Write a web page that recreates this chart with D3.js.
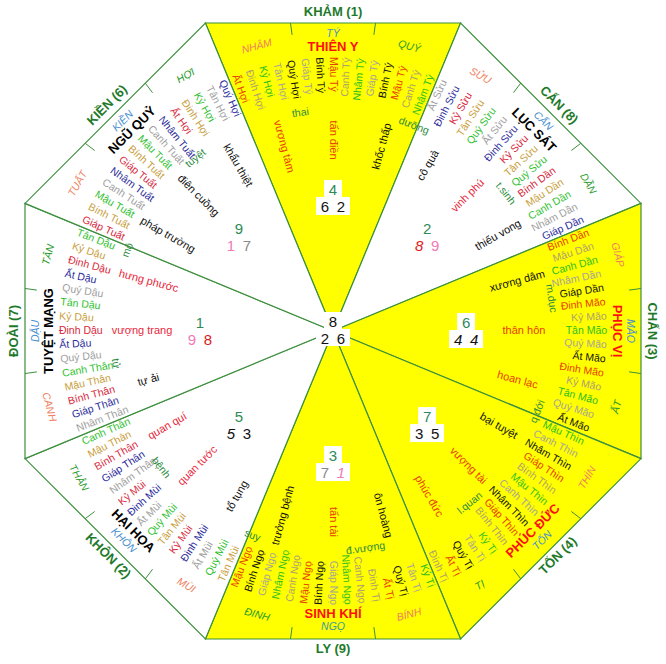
<!DOCTYPE html>
<html><head><meta charset="utf-8">
<script src="https://cdn.jsdelivr.net/npm/d3@7"></script>
<style>body{margin:0;background:#fff}text{font-family:"Liberation Sans",Arial,sans-serif}</style>
</head><body><svg id="c" width="666" height="664"></svg>
<script>
// ---------- data ----------
const palaces = ["KHẢM (1)","CẤN (8)","CHẤN (3)","TỐN (4)","LY (9)","KHÔN (2)","ĐOÀI (7)","KIỀN (6)"];
const stars = ["THIÊN Y","LỤC SÁT","PHỤC VỊ","PHÚC ĐỨC","SINH KHÍ","HẠI HỌA","TUYỆT MẠNG","NGŨ QUỶ"];
const starGood = [true,false,true,true,true,false,false,false];
const yellowSectors = [true,false,true,true,true,false,false,false];
const mountains = [["NHÂM","TÝ","QUÝ"],["SỬU","CẤN","DẦN"],["GIÁP","MÃO","ẤT"],["THÌN","TỐN","TỊ"],["BÍNH","NGỌ","ĐINH"],["MÙI","KHÔN","THÂN"],["CANH","DẬU","TÂN"],["TUẤT","KIỀN","HỢI"]];
const stems = [
 ["Ất Hợi","Đinh Hợi","Kỷ Hợi","Tân Hợi","Quý Hợi","Giáp Tý","Bính Tý","Mậu Tý","Canh Tý","Nhâm Tý","Giáp Tý","Bính Tý","Mậu Tý","Canh Tý","Nhâm Tý"],
 ["Ất Sửu","Đinh Sửu","Kỷ Sửu","Tân Sửu","Quý Sửu","Ất Sửu","Đinh Sửu","Kỷ Sửu","Tân Sửu","Quý Sửu","Bính Dần","Mậu Dần","Canh Dần","Nhâm Dần","Giáp Dần"],
 ["Bính Dần","Mậu Dần","Canh Dần","Nhâm Dần","Giáp Dần","Đinh Mão","Kỷ Mão","Tân Mão","Quý Mão","Ất Mão","Đinh Mão","Kỷ Mão","Tân Mão","Quý Mão","Ất Mão"],
 ["Mậu Thìn","Canh Thìn","Nhâm Thìn","Giáp Thìn","Bính Thìn","Mậu Thìn","Canh Thìn","Nhâm Thìn","Giáp Thìn","Bính Thìn","Kỷ Tị","Tân Tị","Quý Tị","Ất Tị","Đinh Tị"],
 ["Kỷ Tị","Tân Tị","Quý Tị","Ất Tị","Đinh Tị","Canh Ngọ","Nhâm Ngọ","Giáp Ngọ","Bính Ngọ","Mậu Ngọ","Canh Ngọ","Nhâm Ngọ","Giáp Ngọ","Bính Ngọ","Mậu Ngọ"],
 ["Tân Mùi","Quý Mùi","Ất Mùi","Đinh Mùi","Kỷ Mùi","Tân Mùi","Quý Mùi","Ất Mùi","Đinh Mùi","Kỷ Mùi","Nhâm Thân","Giáp Thân","Bính Thân","Mậu Thân","Canh Thân"],
 ["Nhâm Thân","Giáp Thân","Bính Thân","Mậu Thân","Canh Thân","Quý Dậu","Ất Dậu","Đinh Dậu","Kỷ Dậu","Tân Dậu","Quý Dậu","Ất Dậu","Đinh Dậu","Kỷ Dậu","Tân Dậu"],
 ["Giáp Tuất","Bính Tuất","Mậu Tuất","Canh Tuất","Nhâm Tuất","Giáp Tuất","Bính Tuất","Mậu Tuất","Canh Tuất","Nhâm Tuất","Ất Hợi","Đinh Hợi","Kỷ Hợi","Tân Hợi","Quý Hợi"]
];
const ringWords = ["vượng tàm","tấn điền","khốc thấp","cô quả","vinh phú","thiếu vong","xương dâm","thân hôn","hoan lạc","bại tuyệt","vượng tài","phúc đức","ôn hoàng","tấn tài","trưởng bệnh","tổ tụng","quan tước","quan quí","tự ải","vượng trang","hưng phước","pháp trường","điên cuồng","khẩu thiệt"];
const ringGood = [1,1,0,0,1,0,0,1,1,0,1,1,0,1,0,0,1,1,0,1,1,0,0,0];
const stages = ["thai","dưỡng","t.sinh","m.dục","q.đới","l.quan","đ.vượng","suy","bệnh","tử","mộ","tuyệt"];
const topDigit = [4,2,6,7,3,5,1,9];
const leftDigit = [6,8,4,3,7,5,9,1];
const rightDigit = [2,9,4,5,1,3,8,7];
const leftItalic = [0,1,1,0,0,1,0,0];
const rightItalic = [0,0,1,0,1,0,0,0];
const centerDigits = [8,2,6];

// ---------- style config ----------
const cx=333, cy=331, apo=308;
const R = apo/Math.cos(Math.PI/8);
const whitePal=["#a0a0a0","#2b2b9c","#d8283c","#c9a040","#2fbf2f"];
const yellowPal=["#e84000","#b0a070","#30c020","#a8a498","#111"];
const palOffset=[[0,3,3],[0,0,2],[0,0,0],[2,2,2],[2,1,1],[3,3,0],[0,0,0],[2,2,2]];
const digitColor=d=>({1:"#f07ab8",7:"#8a8a8a",8:"#e02020",9:"#f07ab8"}[d]||"#111");
const mountColors=["#f08060","#4a90d0","#2a9a2a"];

const svg=d3.select("#c");
const sectorAngle=d3.scaleLinear().domain([0,8]).range([0,360]);
const stemAngle=d3.scaleLinear().domain([0,14]).range([-21,21]);
const rad=d3.scaleLinear().domain([0,1]).range([0,apo]);
const P=(deg,r)=>{const a=deg*Math.PI/180;return [cx+r*Math.sin(a),cy-r*Math.cos(a)];};
const tang=deg=>{let r=((deg%360)+360)%360; if(r>90&&r<270) r-=180; else if(r>=270) r-=360; return r;};
const radial=deg=>{let a=((deg-90)%360+360)%360; if(a>180)a-=360; const flip=(a>90||a<=-90); return {rot:flip?a+180:a,flip};};

// sectors
palaces.forEach((p,i)=>{
  const c=sectorAngle(i);
  const a=P(c-22.5,R), b=P(c+22.5,R);
  svg.append("path").attr("d",`M${cx},${cy}L${a}L${b}Z`)
   .attr("fill",yellowSectors[i]?"#ffff00":"#fff").attr("stroke","#3d8f3d").attr("stroke-width",1.2);
  // ticks
  [-1/6,1/6].forEach(f=>{
    const e=[(a[0]+b[0])/2+(b[0]-a[0])*f,(a[1]+b[1])/2+(b[1]-a[1])*f];
    const dx=cx-e[0],dy=cy-e[1],L=Math.hypot(dx,dy);
    svg.append("line").attr("x1",e[0]).attr("y1",e[1]).attr("x2",e[0]+dx/L*12).attr("y2",e[1]+dy/L*12).attr("stroke","#3d8f3d");
  });
});
const T=(pos,rot,txt)=>svg.append("text").attr("transform",`translate(${pos[0]},${pos[1]}) rotate(${rot})`).text(txt);

palaces.forEach((p,i)=>{
  const c=sectorAngle(i);
  T(P(c,rad(1.035)),tang(c),p).attr("text-anchor","middle").attr("dominant-baseline","middle")
    .attr("font-size",13).attr("font-weight","bold").attr("fill","#1e7a2a");
  mountains[i].forEach((m,j)=>{
    const d=c+(j-1)*15;
    T(P(d,rad(j==1?0.963:0.955)),tang(d),m).attr("text-anchor","middle").attr("dominant-baseline","middle")
     .attr("font-size",10.5).attr("font-style","italic").attr("fill",i==4&&j==1?"#3a9a9a":mountColors[j]);
  });
  T(P(c,rad(0.92)),tang(c),stars[i]).attr("text-anchor","middle").attr("dominant-baseline","middle")
    .attr("font-size",13).attr("font-weight","bold").attr("fill",starGood[i]?"#ff1010":"#000");
  stems[i].forEach((s,k)=>{
    const d=c+stemAngle(k); const o=radial(d);
    const pal=yellowSectors[i]?yellowPal:whitePal;
    const col=pal[(k%5+palOffset[i][Math.floor(k/5)])%5];
    T(P(d,rad(0.89)),o.rot,s).attr("text-anchor",o.flip?"start":"end").attr("dominant-baseline","middle")
     .attr("font-size",10.5).attr("fill",col);
  });
  // digits
  const np=P(c,rad(0.432));
  const g=svg.append("g").attr("transform",`translate(${np[0]},${np[1]})`);
  g.append("rect").attr("x",-9).attr("y",-18).attr("width",18).attr("height",17).attr("fill","#fff");
  g.append("rect").attr("x",-17).attr("y",-1).attr("width",34).attr("height",18).attr("fill","#fff");
  g.append("text").attr("y",-3).attr("text-anchor","middle").attr("font-size",15).attr("fill","#2e8b57").text(topDigit[i]);
  g.append("text").attr("x",-8).attr("y",14).attr("text-anchor","middle").attr("font-size",15)
   .attr("font-style",leftItalic[i]?"italic":"normal").attr("fill",digitColor(leftDigit[i])).text(leftDigit[i]);
  g.append("text").attr("x",8).attr("y",14).attr("text-anchor","middle").attr("font-size",15)
   .attr("font-style",rightItalic[i]?"italic":"normal").attr("fill",digitColor(rightDigit[i])).text(rightDigit[i]);
});
ringWords.forEach((w,k)=>{
  const d=-15+15*k; const o=radial(d); const sec=Math.round(((d%360)+360)%360/45)%8;
  T(P(d,rad(0.62)),o.rot,w).attr("text-anchor","middle").attr("dominant-baseline","middle").attr("font-size",11)
   .attr("fill",ringGood[k]?(yellowSectors[sec]?"#e84000":"#e8283c"):"#111");
});
stages.forEach((w,k)=>{
  const d=-8.5+30*k;
  T(P(d,rad(0.715)),tang(d),w).attr("text-anchor","middle").attr("dominant-baseline","middle").attr("font-size",10.5).attr("fill","#2e8b3e");
});
// center
const cg=svg.append("g").attr("transform",`translate(${cx},${cy-6})`);
cg.append("rect").attr("x",-9).attr("y",-13).attr("width",18).attr("height",17).attr("fill","#fff");
cg.append("rect").attr("x",-17).attr("y",4).attr("width",34).attr("height",17).attr("fill","#fff");
cg.append("text").attr("y",2).attr("text-anchor","middle").attr("font-size",15).attr("fill","#111").text(centerDigits[0]);
cg.append("text").attr("x",-8).attr("y",19).attr("text-anchor","middle").attr("font-size",15).attr("fill","#111").text(centerDigits[1]);
cg.append("text").attr("x",8).attr("y",19).attr("text-anchor","middle").attr("font-size",15).attr("fill","#111").text(centerDigits[2]);
</script></body></html>
